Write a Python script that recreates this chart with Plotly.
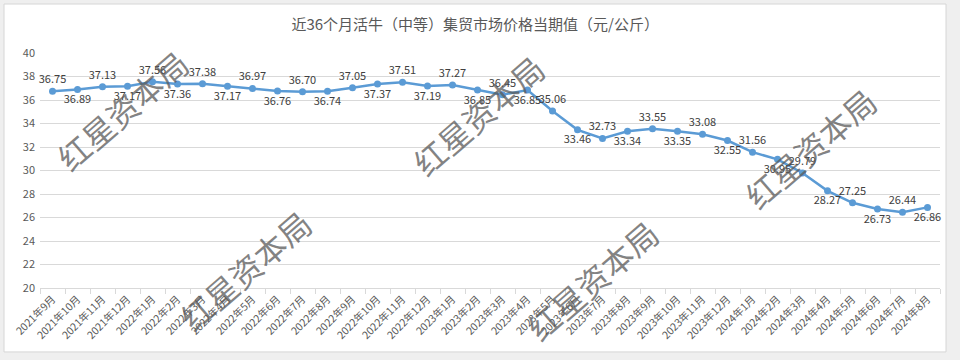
import plotly.graph_objects as go

months = ["2021年9月", "2021年10月", "2021年11月", "2021年12月",
          "2022年1月", "2022年2月", "2022年3月", "2022年4月", "2022年5月", "2022年6月",
          "2022年7月", "2022年8月", "2022年9月", "2022年10月", "2022年11月", "2022年12月",
          "2023年1月", "2023年2月", "2023年3月", "2023年4月", "2023年5月", "2023年6月",
          "2023年7月", "2023年8月", "2023年9月", "2023年10月", "2023年11月", "2023年12月",
          "2024年1月", "2024年2月", "2024年3月", "2024年4月", "2024年5月", "2024年6月",
          "2024年7月", "2024年8月"]
prices = [36.75, 36.89, 37.13, 37.17, 37.56, 37.36, 37.38, 37.17, 36.97, 36.76,
          36.70, 36.74, 37.05, 37.37, 37.51, 37.19, 37.27, 36.85, 36.45, 36.85,
          35.06, 33.46, 32.73, 33.34, 33.55, 33.35, 33.08, 32.55, 31.56, 30.95,
          29.79, 28.27, 27.25, 26.73, 26.44, 26.86]
title_text = "近36个月活牛（中等）集贸市场价格当期值（元/公斤）"
watermark = "红星资本局"

positions = ["top center" if i % 2 == 0 else "bottom center" for i in range(len(prices))]

fig = go.Figure()
fig.add_trace(go.Scatter(
    x=months, y=prices, mode="lines+markers+text",
    line=dict(color="#5b9bd5", width=2.5),
    marker=dict(color="#5b9bd5", size=7),
    text=[f"{v:.2f}" for v in prices],
    textposition=positions,
    textfont=dict(family="Noto Sans CJK SC, sans-serif", size=11, color="#404040"),
    cliponaxis=False,
    hoverinfo="x+y",
))

font_family = "Noto Sans CJK SC, sans-serif"

fig.update_layout(
    width=960, height=360,
    margin=dict(l=40, r=20, t=53, b=72, autoexpand=False),
    paper_bgcolor="#efefef",
    plot_bgcolor="white",
    showlegend=False,
    title=dict(text=title_text, x=0.495, xanchor="center", y=0.93, yanchor="middle",
               font=dict(family=font_family, size=15, color="#595959")),
    xaxis=dict(
        type="category", range=[-0.5, 35.5], automargin=False,
        tickangle=-45, tickfont=dict(family=font_family, size=10.5, color="#595959"),
        showgrid=False, showline=True, linecolor="#d9d9d9", linewidth=1,
        ticks="outside", tickson="boundaries", ticklen=5, tickcolor="#d9d9d9",
        fixedrange=True,
    ),
    yaxis=dict(
        range=[20, 40], dtick=2, tick0=20, automargin=False,
        tickfont=dict(family=font_family, size=11, color="#595959"),
        ticklabelstandoff=4,
        gridcolor="#d9d9d9", gridwidth=1, zeroline=False, showline=False,
        ticks="", fixedrange=True,
    ),
    shapes=[dict(type="rect", xref="paper", yref="paper",
                 x0=-0.04, x1=1.0067, y0=-0.272, y1=1.2085,
                 fillcolor="white", line=dict(color="#d6d6d6", width=1), layer="below")],
)

# watermark centres, in pixels of the 960x360 picture
wm_pos = [(122, 110), (245, 270), (478, 115), (592, 280), (810, 148)]
for (px, py) in wm_pos:
    fig.add_annotation(
        text=watermark, xref="paper", yref="paper",
        x=(px - 40) / 900, y=(288 - py) / 235,
        xanchor="center", yanchor="middle",
        showarrow=False, textangle=-41,
        font=dict(family=font_family, size=32, color="rgba(90,90,90,0.75)"),
    )

fig.write_html("out.html", post_script="document.body.style.margin='0';",
               config={"displayModeBar": False})
